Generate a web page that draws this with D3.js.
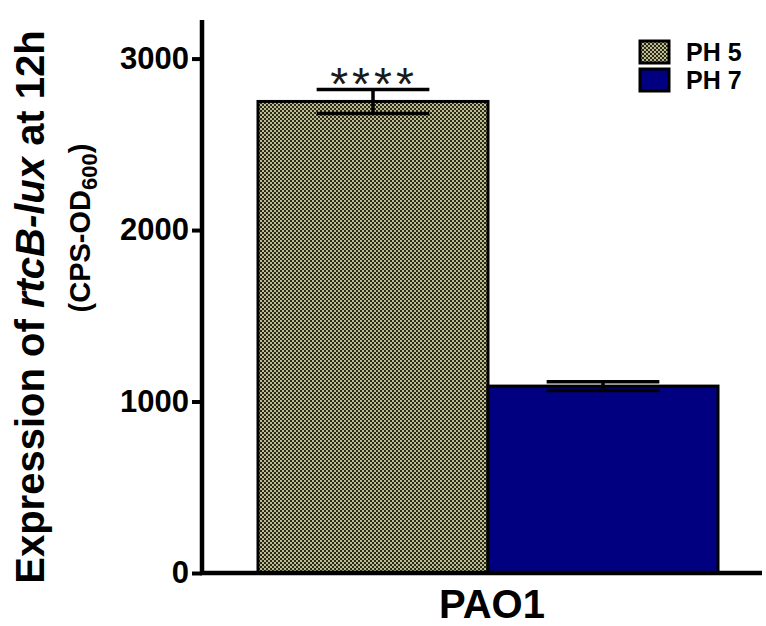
<!DOCTYPE html>
<html>
<head>
<meta charset="utf-8">
<script src="https://cdn.jsdelivr.net/npm/d3@7"></script>
<style>
  html, body { margin: 0; padding: 0; background: #fff; }
  svg { display: block; font-family: Arial, "Liberation Sans", Helvetica, sans-serif; }
</style>
</head>
<body>
<svg id="chart" width="766" height="626"></svg>
<script>
// Strain, conditions and measured luminescence (mean ± error)
const categories = ["PAO1"];
const series = ["PH 5", "PH 7"];
const means = [2750, 1090];
const errors = [70, 25];
const yTicks = [0, 1000, 2000, 3000];
const significance = ["****", ""];

const svg = d3.select("#chart");
const defs = svg.append("defs");

// fine checkered olive fill for the pH 5 bar
const pat = defs.append("pattern")
  .attr("id", "checker")
  .attr("patternUnits", "userSpaceOnUse")
  .attr("width", 4).attr("height", 4);
pat.append("rect").attr("width", 4).attr("height", 4).attr("fill", "#2a2a1c");
pat.append("rect").attr("x", 0).attr("y", 0).attr("width", 2).attr("height", 2).attr("fill", "#bcbc8e");
pat.append("rect").attr("x", 2).attr("y", 2).attr("width", 2).attr("height", 2).attr("fill", "#bcbc8e");

const fills = ["url(#checker)", "#000080"];

const plot = { left: 202, right: 762, top: 20, bottom: 573 };

const y = d3.scaleLinear().domain([0, 3225]).range([plot.bottom, plot.top]);
const x0 = d3.scaleBand().domain(categories).range([258, 718]);
const x1 = d3.scaleBand().domain(series).range([0, x0.bandwidth()]);

// bars
const g = svg.append("g");
categories.forEach(cat => {
  series.forEach((s, i) => {
    const bx = x0(cat) + x1(s);
    const bw = x1.bandwidth();
    g.append("rect")
      .attr("x", bx).attr("y", y(means[i]))
      .attr("width", bw).attr("height", y(0) - y(means[i]))
      .attr("fill", fills[i])
      .attr("stroke", "#000").attr("stroke-width", 3);

    // error bar
    const cx = bx + bw / 2;
    const capW = bw * 0.49;
    const eg = g.append("g").attr("stroke", "#000").attr("stroke-width", 3.5);
    eg.append("line").attr("x1", cx).attr("x2", cx)
      .attr("y1", y(means[i] - errors[i])).attr("y2", y(means[i] + errors[i]));
    eg.append("line").attr("x1", cx - capW / 2).attr("x2", cx + capW / 2)
      .attr("y1", y(means[i] + errors[i])).attr("y2", y(means[i] + errors[i]));
    eg.append("line").attr("x1", cx - capW / 2).attr("x2", cx + capW / 2)
      .attr("y1", y(means[i] - errors[i])).attr("y2", y(means[i] - errors[i]));

    if (significance[i]) {
      g.append("text")
        .attr("x", cx + 1).attr("y", y(means[i] + errors[i]) + 11)
        .attr("text-anchor", "middle")
        .attr("font-size", 46).attr("letter-spacing", 4)
        .attr("fill", "#1a1a1a")
        .text(significance[i]);
    }
  });
});

// y axis
const yAxis = svg.append("g")
  .attr("transform", `translate(${plot.left},0)`)
  .call(d3.axisLeft(y).tickValues(yTicks).tickFormat(d3.format("d"))
    .tickSize(10).tickSizeOuter(0).tickPadding(3));
yAxis.select(".domain").remove();
yAxis.selectAll(".tick line").attr("stroke", "#000").attr("stroke-width", 4);
yAxis.selectAll(".tick text")
  .attr("font-size", 31).attr("font-weight", "bold").attr("fill", "#000")
  .attr("font-family", "Arial, 'Liberation Sans', sans-serif");
svg.append("line")
  .attr("x1", plot.left).attr("x2", plot.left)
  .attr("y1", plot.top).attr("y2", plot.bottom + 2)
  .attr("stroke", "#000").attr("stroke-width", 4.5);

// x axis
svg.append("line")
  .attr("x1", plot.left - 2).attr("x2", plot.right)
  .attr("y1", plot.bottom).attr("y2", plot.bottom)
  .attr("stroke", "#000").attr("stroke-width", 4.5);
svg.append("g")
  .selectAll("text").data(categories).join("text")
  .attr("x", d => x0(d) + x0.bandwidth() / 2 + 4)
  .attr("y", 618)
  .attr("text-anchor", "middle")
  .attr("font-size", 40).attr("font-weight", "bold")
  .text(d => d);

// y axis title
const t1 = svg.append("text")
  .attr("transform", "translate(44,307) rotate(-90)")
  .attr("text-anchor", "middle")
  .attr("font-size", 40).attr("font-weight", "bold");
t1.append("tspan").text("Expression of ");
t1.append("tspan").attr("font-style", "italic").text("rtcB-lux");
t1.append("tspan").text(" at 12h");

const t2 = svg.append("text")
  .attr("transform", "translate(90,228) rotate(-90)")
  .attr("text-anchor", "middle")
  .attr("font-size", 29).attr("font-weight", "bold");
t2.append("tspan").text("(CPS-OD");
t2.append("tspan").attr("font-size", 22).attr("dy", 7).text("600");
t2.append("tspan").attr("dy", -7).text(")");

// legend
const legend = svg.append("g").attr("transform", "translate(640,41)");
series.forEach((s, i) => {
  const row = legend.append("g").attr("transform", `translate(0,${i * 28})`);
  row.append("rect").attr("x", 0).attr("y", 0).attr("width", 29).attr("height", 22)
    .attr("fill", fills[i]).attr("stroke", "#000").attr("stroke-width", 3);
  row.append("text").attr("x", 46).attr("y", 20)
    .attr("font-size", 25).attr("font-weight", "bold").text(s);
});
</script>
</body>
</html>
